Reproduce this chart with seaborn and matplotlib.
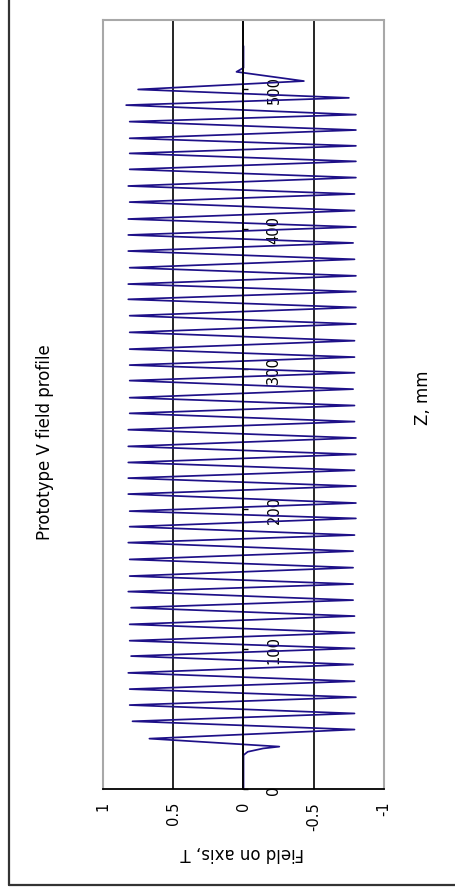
import numpy as np
import matplotlib
matplotlib.use('Agg')
import matplotlib.pyplot as plt
from matplotlib.lines import Line2D
import seaborn as sns

sns.set_style('white', rc={'text.color': 'black', 'xtick.color': 'black',
                           'ytick.color': 'black', 'axes.labelcolor': 'black'})
plt.rcParams['font.family'] = ['DejaVu Sans']

# --- данные ---
# начало: поле ноль, потом маленький провал
z_head = [0.0, 24.2, 26.6, 29.0, 30.3]
b_head = [0.0, 0.0, -0.03, -0.14, -0.255]

# положительные пики (Z, мм / поле, Т)
z_pos = [36.0, 48.4, 60.0, 71.4, 83.0, 95.0,
         106.0, 117.7, 129.6, 141.1, 152.2, 164.1, 176.1, 187.5, 198.6,
         210.8, 222.2, 233.4, 244.9, 256.8, 268.5, 279.7, 291.9, 303.0,
         314.4, 326.4, 338.3, 350.0, 360.9, 372.6, 384.5, 396.0, 407.4, 419.5,
         431.0, 442.9, 454.3, 465.1, 477.0, 488.8, 500.0]
b_pos = [0.67, 0.79, 0.81, 0.81, 0.82, 0.80,
         0.81, 0.81, 0.80, 0.82, 0.81, 0.81, 0.82, 0.81, 0.81,
         0.82, 0.82, 0.82, 0.82, 0.82, 0.81, 0.81, 0.81, 0.81,
         0.81, 0.81, 0.81, 0.82, 0.82, 0.81, 0.82, 0.82, 0.82, 0.81,
         0.82, 0.81, 0.81, 0.81, 0.81, 0.835, 0.75]

# отрицательные пики
z_neg = [42.5, 54.0, 65.6, 77.0, 89.0, 100.5,
         111.7, 123.6, 135.0, 146.5, 158.2, 170.0, 181.5, 193.4, 204.4,
         216.5, 227.8, 239.2, 250.9, 262.6, 274.1, 285.8, 297.5, 308.7,
         320.4, 332.4, 344.2, 355.5, 366.8, 378.6, 390.3, 401.7, 413.4,
         425.3, 437.0, 448.6, 459.7, 471.0, 482.0, 494.0]
b_neg = [-0.79, -0.79, -0.80, -0.79, -0.78, -0.79,
         -0.79, -0.79, -0.78, -0.78, -0.78, -0.78, -0.79, -0.80, -0.80,
         -0.80, -0.79, -0.80, -0.80, -0.79, -0.79, -0.78, -0.79, -0.79,
         -0.79, -0.80, -0.80, -0.80, -0.80, -0.79, -0.78, -0.80, -0.79,
         -0.79, -0.80, -0.80, -0.80, -0.80, -0.80, -0.75]

# хвост после последнего полюса
z_tail = [506.0, 512.6, 515.5, 531.0]
b_tail = [-0.43, 0.05, 0.0, 0.0]

field_ticks = [1, 0.5, 0, -0.5, -1]
field_labels = ['1', '0.5', '0', '-0.5', '-1']
z_ticks = [0, 100, 200, 300, 400, 500]

# собираем ряд: пики чередуются
z_mid, b_mid = [], []
for i in range(len(z_pos)):
    z_mid.append(z_pos[i])
    b_mid.append(b_pos[i])
    if i < len(z_neg):
        z_mid.append(z_neg[i])
        b_mid.append(b_neg[i])

z_all = np.array(z_head + z_mid + z_tail)
b_all = np.array(b_head + b_mid + b_tail)

LINE = '#1e1088'
GRAY = '#a8a8a8'

W, H = 456, 895
fig = plt.figure(figsize=(W / 100, H / 100), dpi=100)
ax = fig.add_axes([103 / W, 1 - 790 / H, (384 - 103) / W, (790 - 20.5) / H])

sns.lineplot(x=b_all, y=z_all, sort=False, estimator=None, color=LINE, lw=1.25, ax=ax)

ax.set_xlim(1, -1)
ax.set_ylim(0, 550)
ax.set_xticks(field_ticks)
ax.set_xticklabels(field_labels)
ax.set_yticks(z_ticks)

# сетка по полю
ax.grid(axis='x', color='black', lw=1.2)
for gl, v in zip(ax.get_xgridlines(), field_ticks):
    if abs(v) == 1:
        gl.set_visible(False)

# рамка
for s in ['left', 'top']:
    ax.spines[s].set_color(GRAY)
    ax.spines[s].set_linewidth(1.5)
ax.spines['bottom'].set_color('black')
ax.spines['bottom'].set_linewidth(1.3)
ax.spines['right'].set_position(('data', 0))
ax.spines['right'].set_color('black')
ax.spines['right'].set_linewidth(1.2)
ax.axvline(-1, color=GRAY, lw=1.5, clip_on=False)

ax.yaxis.tick_right()
ax.tick_params(axis='x', direction='out', length=3.5, width=1.2, pad=5,
               labelrotation=90, labelsize=10.5, colors='black')
ax.tick_params(axis='y', direction='out', length=3.5, width=1.0, pad=13,
               labelrotation=90, labelsize=10.5, colors='black')
for lbl in ax.get_yticklabels():
    lbl.set_va('center')
ax.set_xlabel('')
ax.set_ylabel('')

# подписи (картинка повернута на 90 градусов)
fig.text(45 / W, 1 - 442 / H, 'Prototype V field profile', rotation=90,
         ha='center', va='center', fontsize=12, color='black')
fig.text(423 / W, 1 - 398 / H, 'Z, mm', rotation=90,
         ha='center', va='center', fontsize=12, color='black')
fig.text(242 / W, 1 - 853 / H, 'Field on axis, T', rotation=180,
         ha='center', va='center', fontsize=12, color='black')

# внешняя рамка
fig.add_artist(Line2D([9 / W, 9 / W], [1 - 886 / H, 1], transform=fig.transFigure,
                      color='#333333', lw=1.6))
fig.add_artist(Line2D([9 / W, 1], [1 - 886 / H, 1 - 886 / H], transform=fig.transFigure,
                      color='#333333', lw=1.6))

fig.savefig('out.png', dpi=100)
